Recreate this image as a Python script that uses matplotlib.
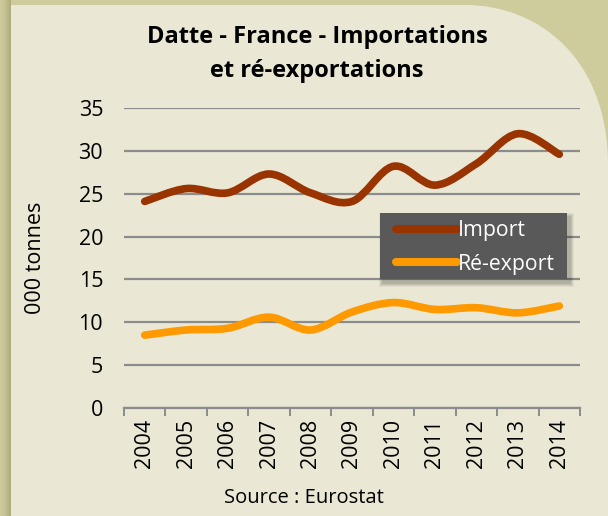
import matplotlib.pyplot as plt
import matplotlib.patches as mpatches
from matplotlib.path import Path
import numpy as np

plt.rcParams['font.family'] = ['Open Sans', 'DejaVu Sans']

years = ['2004', '2005', '2006', '2007', '2008', '2009', '2010', '2011', '2012', '2013', '2014']
imports = [24.1, 25.6, 25.1, 27.3, 25.1, 24.1, 28.2, 26.0, 28.5, 32.0, 29.6]
reexports = [8.5, 9.1, 9.3, 10.6, 9.1, 11.2, 12.3, 11.5, 11.7, 11.1, 11.9]

W, H = 608, 516
fig = plt.figure(figsize=(W / 100, H / 100), dpi=100)
fig.patch.set_facecolor('#CECC9D')


def px(x, y):
    # pixel position (top-left origin) -> figure fraction
    return (x / W, 1 - y / H)


def box(x0, y0, x1, y1, **kw):
    return mpatches.Rectangle(px(x0, y1), (x1 - x0) / W, (y1 - y0) / H,
                              transform=fig.transFigure, lw=0, **kw)


# soft shadow down the left edge of the card
for i, a in enumerate([0.04, 0.07, 0.10, 0.14, 0.18]):
    fig.patches.append(box(11 - 2 * (5 - i), 0, 11, H, color='#8F8C5A', alpha=a, zorder=0))

# card with a rounded top-right corner
verts = [px(11, H), px(11, 5), px(465, 5), px(540, 5), px(608, 60), px(608, 165),
         px(608, H), px(11, H)]
codes = [Path.MOVETO, Path.LINETO, Path.LINETO, Path.CURVE4, Path.CURVE4, Path.CURVE4,
         Path.LINETO, Path.CLOSEPOLY]
card = mpatches.PathPatch(Path(verts, codes), transform=fig.transFigure,
                          facecolor='#EAE8D4', edgecolor='none', zorder=1)
fig.patches.append(card)

ax = fig.add_axes([124 / W, 108 / H, 456 / W, 300 / H])
ax.set_facecolor('none')
ax.set_zorder(2)


def smooth_path(xs, ys):
    # Catmull-Rom style bezier through every point
    xs = np.asarray(xs, float)
    ys = np.asarray(ys, float)
    pts = np.column_stack([xs, ys])
    verts = [pts[0]]
    codes = [Path.MOVETO]
    n = len(pts)
    for i in range(n - 1):
        p0 = pts[i - 1] if i > 0 else pts[i]
        p1 = pts[i]
        p2 = pts[i + 1]
        p3 = pts[i + 2] if i + 2 < n else pts[i + 1]
        c1 = p1 + (p2 - p0) / 6
        c2 = p2 - (p3 - p1) / 6
        verts += [c1, c2, p2]
        codes += [Path.CURVE4] * 3
    return Path(verts, codes)


x = np.arange(len(years))
handles = []
for vals, color, label in [(imports, '#993300', 'Import'), (reexports, '#FF9900', 'Ré-export')]:
    patch = mpatches.PathPatch(smooth_path(x, vals), facecolor='none', edgecolor=color,
                               lw=5.5, capstyle='round', joinstyle='round', zorder=3)
    ax.add_patch(patch)
    handles += ax.plot([], [], color=color, lw=5.8, solid_capstyle='round', label=label)

ax.set_xlim(-0.5, len(years) - 0.5)
ax.set_ylim(0, 35)
ax.set_yticks(range(0, 36, 5))
ax.grid(axis='y', color='#8C8C8C', lw=1.6)
ax.set_axisbelow(True)
for s in ['left', 'right', 'top']:
    ax.spines[s].set_visible(False)
ax.spines['bottom'].set_color('#8C8C8C')
ax.spines['bottom'].set_linewidth(1.6)

ax.set_xticks(np.arange(-0.5, len(years)), minor=False)
ax.set_xticklabels([])
ax.set_xticks(x, minor=True)
ax.set_xticklabels(years, minor=True, rotation=90, fontsize=15.5)
ax.tick_params(axis='x', which='major', length=6, width=1.4, color='#8C8C8C', direction='out')
ax.tick_params(axis='x', which='minor', length=0, pad=8)
ax.tick_params(axis='y', length=0, labelsize=15.5, pad=15)

ax.set_ylabel('000 tonnes', fontsize=15.5)
ax.yaxis.set_label_coords(-0.171, 0.5)

fig.text(317 / W, 1 - 54 / H, 'Datte - France - Importations\net ré-exportations',
         ha='center', va='center', fontsize=17, fontweight='bold', linespacing=1.55)
fig.text(304 / W, 1 - 498 / H, 'Source : Eurostat', ha='center', va='center', fontsize=14.5)

# legend panel with a blurred drop shadow
for k, a in enumerate([0.05, 0.06, 0.07, 0.08]):
    d = 4 - k
    fig.patches.append(box(380 + 3 - d, 213 + 4 - d, 567 + 3 + d, 279 + 4 + d,
                           color='black', alpha=a, zorder=4))
fig.patches.append(box(380, 213, 567, 279, color='#595959', zorder=4))

leg = fig.legend(handles=handles, loc='upper left', bbox_to_anchor=px(396, 220),
                 frameon=False, labelcolor='white', fontsize=15.3, handlelength=2.85,
                 handletextpad=0.05, borderpad=0, labelspacing=0.6, borderaxespad=0)
leg.set_zorder(5)

fig.savefig('out.png', dpi=100, facecolor=fig.get_facecolor())
